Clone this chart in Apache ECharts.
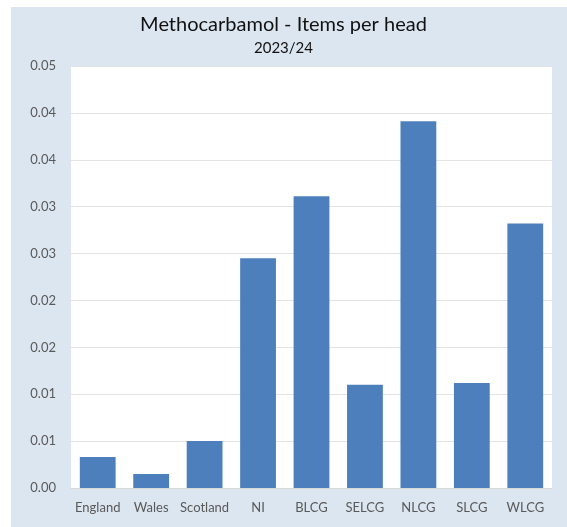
<!DOCTYPE html>
<html>
<head>
<meta charset="utf-8">
<script src="https://cdn.jsdelivr.net/npm/echarts@6/dist/echarts.min.js"></script>
<style>
html,body{margin:0;padding:0;background:#fff;}
#c{width:567px;height:527px;}
</style>
</head>
<body>
<div id="c"></div>
<script>
var categories = ['England','Wales','Scotland','NI','BLCG','SELCG','NLCG','SLCG','WLCG'];
var itemsPerHead = [0.0033, 0.0015, 0.0050, 0.0245, 0.0311, 0.0110, 0.0391, 0.0112, 0.0282];
var titleText = 'Methocarbamol - Items per head';
var subtitleText = '2023/24';

var chart = echarts.init(document.getElementById('c'));
chart.setOption({
  backgroundColor: '#ffffff',
  animation: false,
  graphic: [{
    type: 'rect', z: -10, silent: true,
    shape: {x: 11, y: 7, width: 556, height: 520},
    style: {fill: '#dce6f1'}
  }],
  title: {
    text: titleText,
    subtext: subtitleText,
    left: 'center',
    top: 10,
    itemGap: 6,
    textStyle: {fontFamily: 'Lato', fontSize: 20, fontWeight: 'normal', color: '#111111'},
    subtextStyle: {fontFamily: 'Lato', fontSize: 15, color: '#111111'}
  },
  grid: {left: 71, right: 15, top: 66, bottom: 39, containLabel: false,
    show: true, backgroundColor: '#ffffff', borderWidth: 0},
  xAxis: {
    type: 'category',
    data: categories,
    axisLine: {show: true, lineStyle: {color: '#d9d9d9'}},
    axisTick: {show: false},
    axisLabel: {color: '#595959', fontFamily: 'Lato', fontSize: 13, margin: 13, interval: 0}
  },
  yAxis: {
    type: 'value',
    min: 0, max: 0.045, interval: 0.005,
    axisLine: {show: false},
    axisTick: {show: false},
    splitLine: {lineStyle: {color: '#e3e3e3'}},
    axisLabel: {color: '#595959', fontFamily: 'Lato', fontSize: 13, margin: 15,
      formatter: function (v) { return (Math.round(v * 100 + 1e-9) / 100).toFixed(2); }}
  },
  series: [{
    type: 'bar',
    data: itemsPerHead,
    barCategoryGap: '33%',
    itemStyle: {color: '#4e7fbd'}
  }]
});
</script>
</body>
</html>
